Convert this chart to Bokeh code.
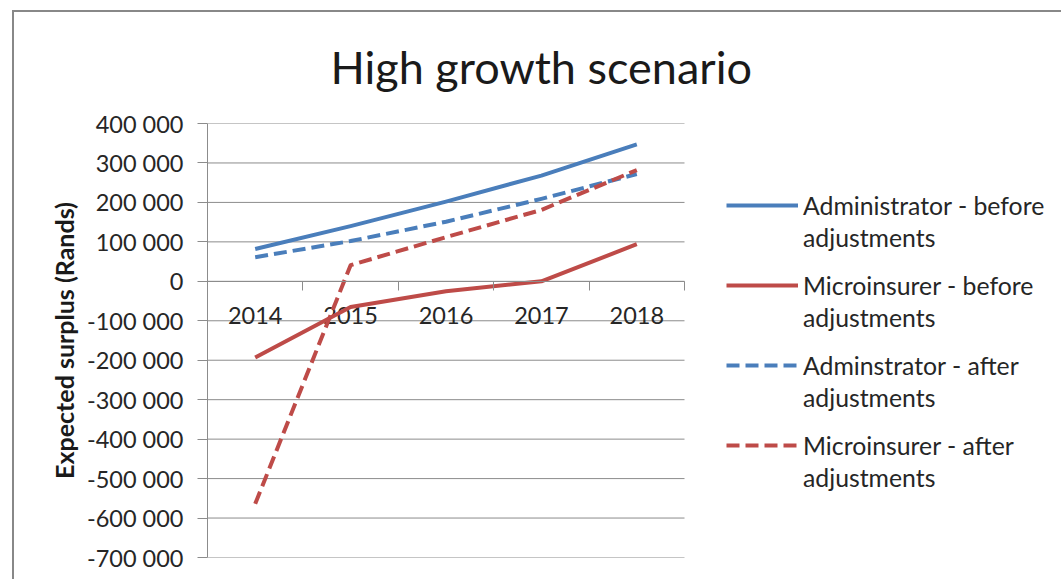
from bokeh.plotting import figure
from bokeh.models import (Range1d, FixedTicker, SingleIntervalTicker, CustomJSTickFormatter,
                          Legend, LegendItem, LinearAxis, ColumnDataSource)
from bokeh.core.properties import value
from bokeh.embed import file_html
from bokeh.resources import INLINE

# ---- data ----
years = ["2014", "2015", "2016", "2017", "2018"]
admin_before = [82000, 140000, 202000, 268000, 347000]
micro_before = [-193000, -65000, -25000, 0, 94000]
admin_after = [61000, 102000, 151000, 209000, 272000]
micro_after = [-564000, 41000, 112000, 181000, 282000]
series_first = ["Administrator - before", "Microinsurer - before",
                "Adminstrator - after", "Microinsurer - after"]
series_second = ["adjustments", "adjustments", "adjustments", "adjustments"]
y_ticks_min, y_ticks_max, y_step = -700000, 400000, 100000

FONT = "Lato"
BLUE = "#4A7EBB"
RED = "#BE4B48"
GRID = "#8C8C8C"
TXT = "#262626"

n = len(years)
xpos = [i + 0.5 for i in range(n)]
y_grid_vals = list(range(y_ticks_min, y_ticks_max + 1, y_step))

# frame spans 207..1061 px of canvas; the category area occupies 207..684 px
W, H = 1061, 579
FRAME_LEFT, CAT_RIGHT = 207, 684
x_end = n * (W - FRAME_LEFT) / (CAT_RIGHT - FRAME_LEFT)

p = figure(width=W, height=H, output_backend="svg", toolbar_location=None,
           x_range=Range1d(0, x_end), y_range=Range1d(y_ticks_min, y_ticks_max),
           min_border_left=FRAME_LEFT, min_border_right=0, min_border_top=123,
           min_border_bottom=22, x_axis_location=None)
p.background_fill_color = "white"
p.border_fill_alpha = 0
p.outline_line_color = None
p.styles = {
    "background-color": "white",
    "background-image": "linear-gradient(#888888, #888888), linear-gradient(#888888, #888888)",
    "background-size": "100% 2px, 2px 100%",
    "background-position": "12px 10px, 12px 10px",
    "background-repeat": "no-repeat",
}

# title
p.title.text = "High growth scenario"
p.title.text_font = FONT
p.title.text_font_size = "45px"
p.title.text_font_style = "normal"
p.title.text_color = "#1a1a1a"
p.title.align = "left"
p.title.offset = 123
p.title.standoff = 60

# grid (drawn only across the category area)
p.xgrid.visible = False
p.ygrid.visible = False
p.segment(x0=[0] * len(y_grid_vals), x1=[n] * len(y_grid_vals), y0=y_grid_vals, y1=y_grid_vals,
          line_color=GRID, line_width=1, level="underlay")

# y axis
ya = p.yaxis[0]
ya.ticker = SingleIntervalTicker(interval=y_step)
ya.formatter = CustomJSTickFormatter(code="""
return tick.toFixed(0).replace(/\\B(?=(\\d{3})+(?!\\d))/g, " ");
""")
ya.axis_line_color = GRID
ya.major_tick_line_color = GRID
ya.major_tick_out = 10
ya.major_tick_in = 0
ya.minor_tick_line_color = None
ya.major_label_text_font = FONT
ya.major_label_text_font_size = "23.5px"
ya.major_label_text_color = TXT
ya.major_label_standoff = 14
ya.axis_label = "Expected surplus (Rands)"
ya.axis_label_text_font = FONT
ya.axis_label_text_font_size = "25px"
ya.axis_label_text_font_style = "bold"
ya.axis_label_text_color = "#1a1a1a"
ya.axis_label_standoff = 5

# x axis crossing at zero (tick marks between categories, no labels of its own)
xa = LinearAxis(fixed_location=0, ticker=FixedTicker(ticks=list(range(n + 1))), bounds=(0, n))
xa.axis_line_color = GRID
xa.major_tick_line_color = GRID
xa.major_tick_out = 0
xa.major_tick_in = -9
xa.minor_tick_line_color = None
xa.major_label_text_color = None
xa.major_label_text_font_size = "1px"
xa.major_label_standoff = 0
p.add_layout(xa, "below")

# category labels
src = ColumnDataSource(dict(x=xpos, y=[0] * n, t=years))
p.text(x="x", y="y", text="t", source=src, y_offset=34, text_align="center",
       text_baseline="middle", text_font=value(FONT), text_font_size="23.5px",
       text_color=TXT)

# lines
r1 = p.line(xpos, admin_before, line_color=BLUE, line_width=4, line_join="round")
r2 = p.line(xpos, micro_before, line_color=RED, line_width=4, line_join="round")
r3 = p.line(xpos, admin_after, line_color=BLUE, line_width=4, line_dash="13 6", line_join="round")
r4 = p.line(xpos, micro_after, line_color=RED, line_width=4, line_dash="13 6", line_join="round")
renderers = [r1, r2, r3, r4]

def make_legend(labels, glyph_w, standoff, loc):
    lg = Legend(items=[LegendItem(label=lab, renderers=[r]) for lab, r in zip(labels, renderers)],
                location=loc, margin=0, padding=0, spacing=50,
                glyph_width=glyph_w, glyph_height=30, label_height=30,
                label_standoff=standoff, border_line_alpha=0,
                background_fill_alpha=0)
    lg.label_text_font = FONT
    lg.label_text_font_size = "24.8px"
    lg.label_text_color = TXT
    return lg

p.add_layout(make_legend(series_first, 72, 5, (519, 97)), "center")
p.add_layout(make_legend(series_second, 0, 77, (519, 65)), "center")

open("out.html", "w").write(file_html(p, INLINE))
